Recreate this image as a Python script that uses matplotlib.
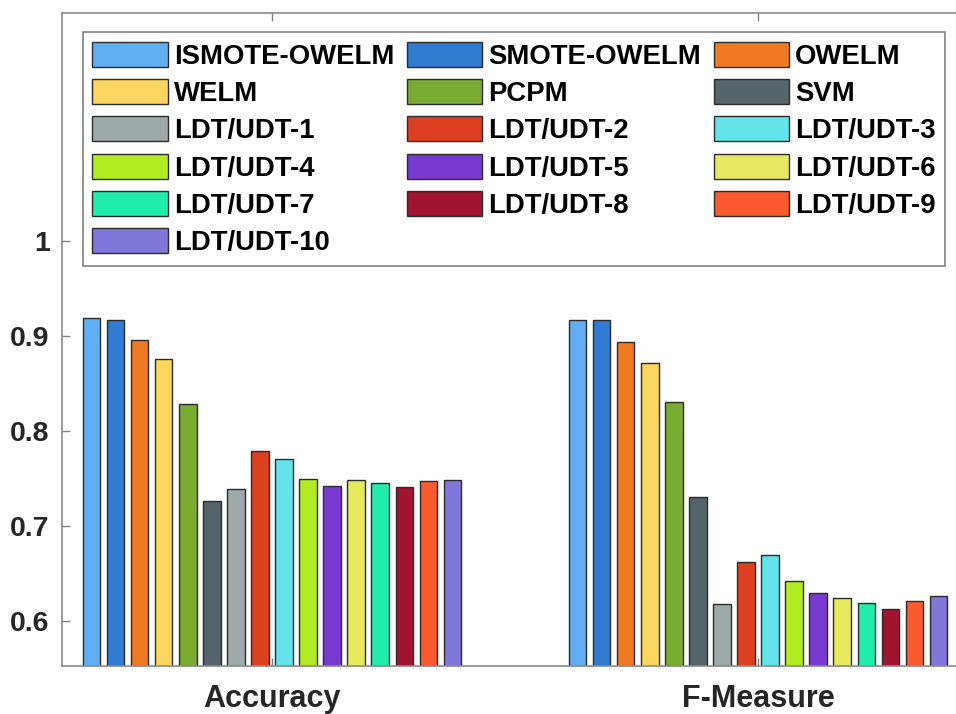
import matplotlib
matplotlib.use('Agg')
import matplotlib.pyplot as plt
import numpy as np

categories = ['Accuracy', 'F-Measure']
methods = ['ISMOTE-OWELM', 'SMOTE-OWELM', 'OWELM', 'WELM', 'PCPM', 'SVM',
           'LDT/UDT-1', 'LDT/UDT-2', 'LDT/UDT-3', 'LDT/UDT-4', 'LDT/UDT-5',
           'LDT/UDT-6', 'LDT/UDT-7', 'LDT/UDT-8', 'LDT/UDT-9', 'LDT/UDT-10']
accuracy = [0.919, 0.917, 0.896, 0.876, 0.828, 0.726, 0.739, 0.779,
            0.770, 0.749, 0.742, 0.748, 0.745, 0.741, 0.747, 0.748]
fmeasure = [0.917, 0.917, 0.894, 0.872, 0.830, 0.730, 0.618, 0.662,
            0.669, 0.642, 0.629, 0.624, 0.619, 0.613, 0.621, 0.626]
colors = ['#62AEF2', '#317BD2', '#EF7A22', '#FDD660', '#7AAB31', '#53646B',
          '#9EAAAA', '#DD4020', '#62E3E9', '#B1EC22', '#7739CF', '#E8E85F',
          '#21EDAA', '#A11430', '#FA5A2D', '#7F77D9']
yticks = [0.6, 0.7, 0.8, 0.9, 1.0]
yticklabels = ['0.6', '0.7', '0.8', '0.9', '1']

plt.rcParams['font.family'] = ['Liberation Sans', 'DejaVu Sans']
plt.rcParams['font.weight'] = 'bold'

W, H = 956, 714
fig = plt.figure(figsize=(W / 100, H / 100), dpi=100)
ax = fig.add_axes([62 / W, 48 / H, 906 / W, 653 / H])

values = np.array([accuracy, fmeasure])  # shape (2, 16)
x = np.arange(1, len(categories) + 1)
n = len(methods)
slot = 0.0495
bw = 0.036
handles = []
for i in range(n):
    off = (i - (n - 1) / 2) * slot
    b = ax.bar(x + off, values[:, i], width=bw, color=colors[i],
               edgecolor='#2b2b2b', linewidth=1.0, label=methods[i], zorder=2)
    handles.append(b)

ax.set_xlim(0.568, 2.432)
ax.set_ylim(0.5526, 1.24)
ax.set_xticks(x)
ax.set_xticklabels(categories, fontsize=22, fontweight='bold', color='#262626')
ax.set_yticks(yticks)
ax.set_yticklabels(yticklabels, fontsize=20.5, fontweight='bold', color='#262626')
ax.tick_params(axis='both', direction='in', length=6, width=1.0, color='#808080',
               top=True, right=True)
ax.tick_params(axis='y', pad=9)
ax.tick_params(axis='x', pad=13)
for s in ax.spines.values():
    s.set_color('#8a8a8a')
    s.set_linewidth(1.2)

order = []
for c in range(3):
    order += list(range(c, n, 3))
leg = fig.legend([handles[i] for i in order], [methods[i] for i in order],
                 ncol=3, loc='upper left',
                 bbox_to_anchor=(82.7 / W, 1 - 32.3 / H),
                 bbox_transform=fig.transFigure,
                 prop={'family': ['Liberation Sans', 'DejaVu Sans'], 'weight': 'bold', 'size': 19.8},
                 handlelength=2.75, handleheight=1.02, handletextpad=0.22,
                 borderpad=0.35, borderaxespad=0, columnspacing=0.45,
                 labelspacing=0.34, fancybox=False, framealpha=1,
                 edgecolor='#808080')
leg.get_frame().set_linewidth(1.2)

fig.savefig('out.png', dpi=100)
